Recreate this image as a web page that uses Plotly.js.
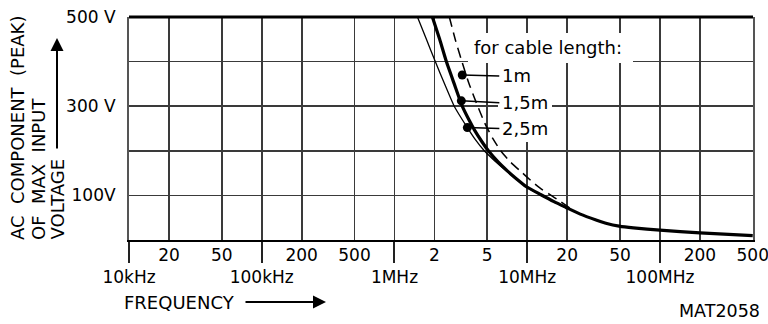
<!DOCTYPE html>
<html><head><meta charset="utf-8">
<script src="https://cdn.plot.ly/plotly-3.0.1.min.js"></script>
<style>html,body{margin:0;padding:0;background:#fff}#chart{width:768px;height:324px}</style>
</head><body><div id="chart"></div>
<script>
// ---- data (frequency in MHz, voltage in V peak) ----
const freq15 = [1.93, 2.19, 2.46, 2.82, 3.24, 3.63, 4.0, 4.52, 5.1, 6.03, 7.08, 8.32, 9.8, 12.6, 15.9, 19.6, 25.1, 33, 39.8, 49.2, 63.1, 100, 200, 500];
const volt15 = [500, 450, 400, 350, 300, 270, 247, 222, 200, 175, 155, 137, 120, 102, 86, 73, 58, 45, 37, 31, 27, 22, 16, 10];
const freq25 = [1.49, 1.74, 2.03, 2.40, 2.82, 3.54, 4.07, 4.75, 5.62, 7.08, 9.82, 12.6, 19.6];
const volt25 = [500, 450, 400, 348, 300, 252, 225, 200, 179, 153, 119, 101, 72];
const freq1 = [2.59, 2.88, 3.19, 3.63, 4.17, 4.79, 5.50, 6.31, 7.41, 9.16, 10.96, 12.97, 15.14, 17.42, 21.38];
const volt1 = [500, 448, 404, 352, 305, 262, 228, 200, 176, 151, 130, 113, 100, 88, 70];
const dotFreq = [3.24, 3.19, 3.54];
const dotVolt = [370, 312, 252];
const cableLabels = ['1m', '1,5m', '2,5m'];
const majorTicks = [0.01, 0.1, 1, 10, 100];
const majorText = ['10kHz', '100kHz', '1MHz', '10MHz', '100MHz'];
const minorTicks = [0.02, 0.05, 0.2, 0.5, 2, 5, 20, 50, 200, 500];
const minorText = ['20', '50', '200', '500', '2', '5', '20', '50', '200', '500'];
const yTicks = [100, 200, 300, 400, 500];
const yText = ['100V', '', '300 V', '', '500 V'];
const xMin = 0.01, xMax = 500;

const FONT = 'DejaVu Sans, sans-serif';
const gridC = '#3a3a3a';
const L = 129, W = 624, T = 17, H = 223;
const px = v => (v - L) / W;
const py = v => (T + H - v) / H;
const xRange = [Math.log10(xMin), Math.log10(xMax) + 0.002];

const lineStyle = (w, dash) => ({color: '#000', width: w, dash: dash || 'solid', shape: 'spline', smoothing: 0.5});
const traces = [
  {x: freq25, y: volt25, mode: 'lines', line: lineStyle(1.3), hoverinfo: 'skip'},
  {x: freq15, y: volt15, mode: 'lines', line: lineStyle(3.2), hoverinfo: 'skip'},
  {x: freq1, y: volt1, mode: 'lines', line: lineStyle(1.5, '10px,6px'), hoverinfo: 'skip'},
  {x: dotFreq, y: dotVolt, xaxis: 'x2', mode: 'markers', marker: {color: '#000', size: 9}, hoverinfo: 'skip'}
];

const annotations = [
  {text: 'AC  COMPONENT  (PEAK)', x: px(17), y: py(242), xanchor: 'center', yanchor: 'bottom'},
  {text: 'OF  MAX  INPUT', x: px(38), y: py(242), xanchor: 'center', yanchor: 'bottom'},
  {text: 'VOLTAGE', x: px(57), y: py(242), xanchor: 'center', yanchor: 'bottom'}
].map(a => Object.assign(a, {xref: 'paper', yref: 'paper', textangle: -90, showarrow: false, font: {family: FONT, size: 18, color: '#000'}}));

annotations.push(
  {x: px(57), y: py(38), xref: 'paper', yref: 'paper', text: '', showarrow: true, ax: 0, ay: 112, arrowhead: 2, arrowsize: 1.3, arrowwidth: 2, arrowcolor: '#000'},
  {x: px(122), y: py(302), xref: 'paper', yref: 'paper', text: 'FREQUENCY', xanchor: 'left', yanchor: 'middle', showarrow: false, font: {family: FONT, size: 18, color: '#000'}},
  {x: px(326), y: py(302), xref: 'paper', yref: 'paper', text: '', showarrow: true, ax: -82, ay: 0, arrowhead: 2, arrowsize: 1.3, arrowwidth: 2, arrowcolor: '#000'},
  {x: px(762), y: py(311), xref: 'paper', yref: 'paper', text: 'MAT2058', xanchor: 'right', yanchor: 'middle', showarrow: false, font: {family: FONT, size: 17.5, color: '#000'}},
  {x: px(472), y: py(47), xref: 'paper', yref: 'paper', text: 'for cable length:', xanchor: 'left', yanchor: 'middle', showarrow: false, font: {family: FONT, size: 18, color: '#000'}}
);
const labelOffsets = [[37, 1], [38, 2], [32, 1]];
cableLabels.forEach((t, i) => {
  annotations.push({x: Math.log10(dotFreq[i]), y: dotVolt[i], xref: 'x', yref: 'y', text: t,
    xanchor: 'left', yanchor: 'middle', showarrow: true, ax: labelOffsets[i][0], ay: labelOffsets[i][1],
    arrowhead: 0, arrowwidth: 1.5, arrowcolor: '#000', standoff: 0, borderpad: 2,
    font: {family: FONT, size: 18, color: '#000'}});
});

const layout = {
  width: 768, height: 324,
  margin: {l: L, r: 768 - L - W, t: T, b: 324 - T - H},
  paper_bgcolor: '#fff', plot_bgcolor: '#fff',
  showlegend: false,
  font: {family: FONT, size: 17, color: '#000'},
  xaxis: {type: 'log', range: xRange, tickmode: 'array', tickvals: majorTicks, ticktext: majorText,
    ticks: 'outside', ticklen: 21, tickwidth: 2, tickcolor: '#222', showgrid: true, gridcolor: gridC, gridwidth: 1.6,
    showline: true, linecolor: '#000', linewidth: 2, zeroline: false, ticklabelstandoff: 0,
    tickfont: {family: FONT, size: 17, color: '#000'}, fixedrange: true},
  xaxis2: {type: 'log', overlaying: 'x', side: 'bottom', range: xRange, tickmode: 'array',
    tickvals: minorTicks, ticktext: minorText, ticks: '', showgrid: true, gridcolor: gridC, gridwidth: 1.6,
    showline: false, zeroline: false, ticklabelstandoff: 3, ticklabeloverflow: 'allow',
    tickfont: {family: FONT, size: 17, color: '#000'}, fixedrange: true},
  yaxis: {range: [0, 500], tickmode: 'array', tickvals: yTicks, ticktext: yText, ticks: '', showgrid: true,
    gridcolor: gridC, gridwidth: 1.6, showline: true, linecolor: '#555', linewidth: 2, mirror: true,
    zeroline: false, ticklabelstandoff: 8, tickfont: {family: FONT, size: 17, color: '#000'}, fixedrange: true},
  shapes: [
    {type: 'rect', xref: 'paper', yref: 'paper', x0: px(468), x1: px(633), y0: py(63), y1: py(33), fillcolor: '#fff', line: {width: 0}, layer: 'above'},
    {type: 'rect', xref: 'paper', yref: 'paper', x0: px(498), x1: px(552), y0: py(142), y1: py(63), fillcolor: '#fff', line: {width: 0}, layer: 'above'},
    {type: 'line', xref: 'paper', yref: 'paper', x0: 0, x1: 1, y0: 1, y1: 1, line: {color: '#000', width: 3}, layer: 'above'}
  ],
  annotations: annotations
};

Plotly.newPlot('chart', traces, layout, {staticPlot: true, displayModeBar: false});
</script>
</body></html>
